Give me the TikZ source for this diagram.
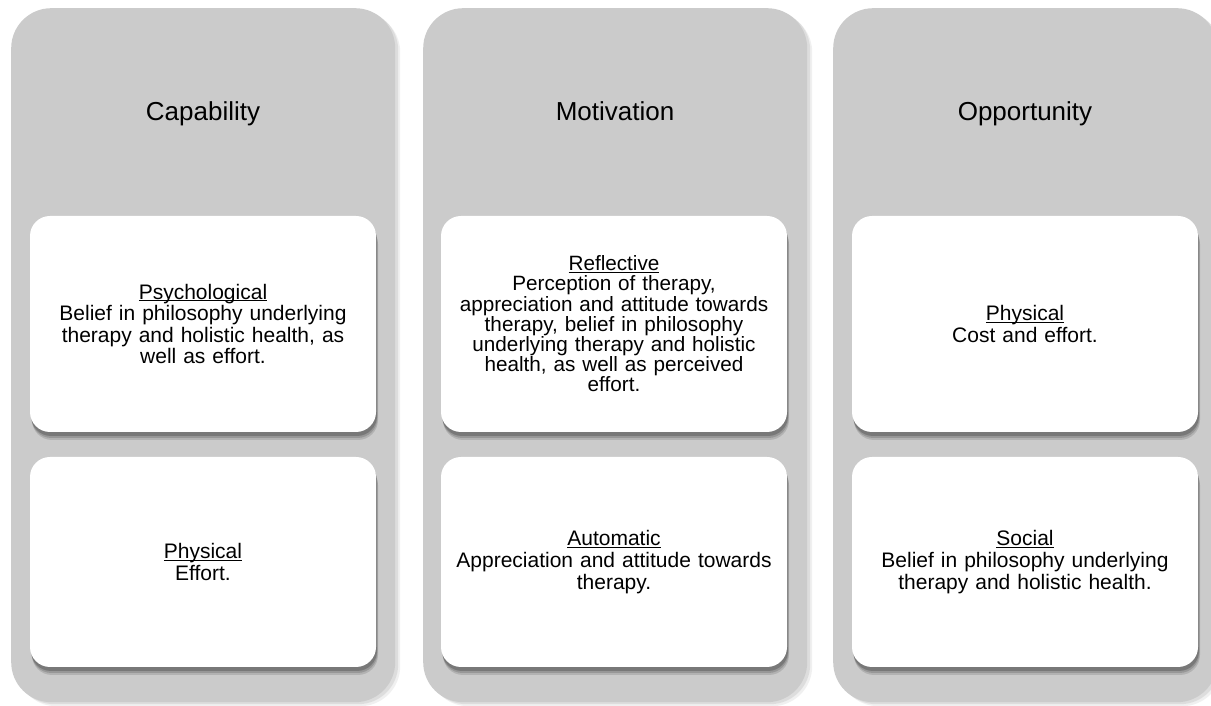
\documentclass[tikz,border=0pt]{standalone}
\usepackage{fontspec}
\setmainfont{Liberation Sans}
\usetikzlibrary{shadows}
\definecolor{colgray}{HTML}{CBCBCB}
\newcommand\myul[1]{\setbox0=\hbox{#1}\rlap{\rule[-2.3pt]{\wd0}{1.2pt}}\box0}
\tikzset{
  column/.style={fill=colgray, draw=none, rounded corners=40pt, minimum width=384pt,
    minimum height=694pt, anchor=north west, inner sep=0pt,
    drop shadow={shadow xshift=3pt, shadow yshift=-2pt, opacity=0.08, fill=black},
    drop shadow={shadow xshift=5pt, shadow yshift=-4pt, opacity=0.06, fill=black}},
  coltitle/.style={font=\fontsize{26}{30}\selectfont, text=black, anchor=base},
  card/.style={fill=white, draw=none, rounded corners=20pt, minimum width=346pt,
    inner sep=0pt, text width=336pt, align=center,
    font=\fontsize{21}{21.6}\selectfont,
    drop shadow={shadow xshift=2pt, shadow yshift=-8pt, opacity=0.12, fill=black},
    drop shadow={shadow xshift=1.5pt, shadow yshift=-6pt, opacity=0.15, fill=black},
    drop shadow={shadow xshift=1pt, shadow yshift=-4pt, opacity=0.2, fill=black}},
  cardtop/.style={card, minimum height=216pt},
  cardbot/.style={card, minimum height=210pt},
}
\begin{document}
\begin{tikzpicture}[x=1pt,y=1pt]
\useasboundingbox (0,0) rectangle (1211,706);
% columns
\node[column] (c1) at (11,698) {};
\node[column] (c2) at (423,698) {};
\node[column] (c3) at (833,698) {};
% titles
\node[coltitle] (t1) at (203,585) {Capability};
\node[coltitle] (t2) at (615,585) {Motivation};
\node[coltitle] (t3) at (1025,585) {Opportunity};
% cards
\node[cardtop] (b11) at (203,382) {\myul{Psychological}\\Belief in philosophy underlying\\therapy and holistic health, as\\well as effort.};
\node[cardbot] (b12) at (203,144) {\myul{Physical}\\Effort.};
\node[cardtop, font=\fontsize{20.7}{20.2}\selectfont] (b21) at (614,382) {\myul{Reflective}\\Perception of therapy,\\appreciation and attitude towards\\therapy, belief in philosophy\\underlying therapy and holistic\\health, as well as perceived\\effort.};
\node[cardbot] (b22) at (614,144) {\myul{Automatic}\\Appreciation and attitude towards\\therapy.};
\node[cardtop] (b31) at (1025,382) {\myul{Physical}\\Cost and effort.};
\node[cardbot] (b32) at (1025,144) {\myul{Social}\\Belief in philosophy underlying\\therapy and holistic health.};
\end{tikzpicture}
\end{document}
